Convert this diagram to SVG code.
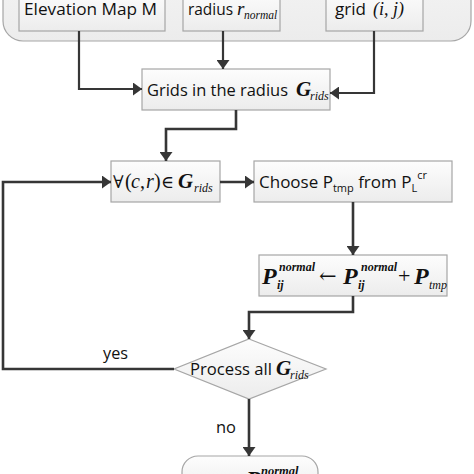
<svg xmlns="http://www.w3.org/2000/svg" width="474" height="474" viewBox="0 0 474 474">
<defs>
<linearGradient id="gBox" x1="0" y1="0" x2="0" y2="1">
<stop offset="0" stop-color="#fdfdfd"/><stop offset="1" stop-color="#ececec"/>
</linearGradient>
<linearGradient id="gCont" x1="0" y1="0" x2="0" y2="1">
<stop offset="0" stop-color="#f4f4f4"/><stop offset="1" stop-color="#ececec"/>
</linearGradient>
<marker id="arr" markerUnits="userSpaceOnUse" markerWidth="10" markerHeight="13" refX="9" refY="6.5" orient="auto">
<path d="M0,0 L9,6.5 L0,13 z" fill="#363636"/>
</marker>
</defs>
<style>
.box{fill:url(#gBox);stroke:#a6a6a6;stroke-width:1.2}
.cont{fill:url(#gCont);stroke:#a6a6a6;stroke-width:1.2}
.t{font-family:"Open Sans","Liberation Sans",sans-serif;font-size:17px;fill:#111}
.m{font-family:"Liberation Serif","Times New Roman",serif;fill:#111}
.sym{font-family:"DejaVu Serif","Liberation Serif",serif;fill:#111}
.bi{font-weight:bold;font-style:italic}
.i{font-style:italic}
.c{fill:none;stroke:#363636;stroke-width:2.6}
.cs{fill:none;stroke:#363636;stroke-width:2.2}
</style>
<rect width="474" height="474" fill="#ffffff"/>
<g id="inputs">
<rect class="cont" x="3" y="-30" width="468" height="71" rx="20"/>
</g>
<g id="elevation">
<rect class="box" x="19" y="-10" width="146" height="41"/>
<text class="t" x="24" y="14.5" textLength="133" lengthAdjust="spacingAndGlyphs">Elevation Map M</text>
</g>
<g id="radius">
<rect class="box" x="183" y="-10" width="97" height="41"/>
<text class="t" x="188" y="14.5" textLength="45" lengthAdjust="spacingAndGlyphs">radius</text>
<text class="m i" x="237" y="14.5" font-size="19">r</text>
<text class="m i" x="244" y="18.5" font-size="11.5">normal</text>
</g>
<g id="grid">
<rect class="box" x="326" y="-10" width="97" height="41"/>
<text class="t" x="335" y="14.5" textLength="31" lengthAdjust="spacingAndGlyphs">grid</text>
<text class="m i" x="373" y="14.5" font-size="18">(i, j)</text>
</g>
<g id="grids">
<rect class="box" x="142" y="69" width="188" height="41"/>
<text class="t" x="147" y="96" textLength="141" lengthAdjust="spacingAndGlyphs">Grids in the radius</text>
<text class="m bi" x="296" y="96" font-size="21">G</text>
<text class="m i" x="310" y="100" font-size="12">rids</text>
</g>
<g id="forall">
<rect class="box" x="111" y="161" width="109" height="41"/>
<text class="sym" y="188" font-size="17.5"><tspan x="113">∀</tspan><tspan x="161">∈</tspan></text>
<text class="m" y="188" font-size="20"><tspan x="125">(</tspan><tspan x="131" font-style="italic">c</tspan><tspan x="140">,</tspan><tspan x="146" font-style="italic">r</tspan><tspan x="154">)</tspan></text>
<text class="m bi" x="178" y="188" font-size="21">G</text>
<text class="m i" x="194" y="192" font-size="12">rids</text>
</g>
<g id="choose">
<rect class="box" x="254" y="161" width="198" height="41"/>
<text class="t" x="259" y="188">Choose P<tspan font-size="11" dy="4">tmp</tspan><tspan dy="-4"> from P</tspan><tspan font-size="11" dy="4">L</tspan><tspan font-size="11" dy="-13">cr</tspan></text>
</g>
<g id="update">
<rect class="box" x="259" y="255" width="188" height="41"/>
<text class="m bi" x="262" y="284" font-size="24">P</text>
<text class="m bi" x="277" y="289" font-size="12">ij</text>
<text class="m bi" x="279" y="271" font-size="12">normal</text>
<text class="sym" x="319" y="283" font-size="21">←</text>
<text class="m bi" x="343" y="284" font-size="24">P</text>
<text class="m bi" x="358" y="289" font-size="12">ij</text>
<text class="m bi" x="361" y="271" font-size="12">normal</text>
<text class="m" x="398" y="283" font-size="22">+</text>
<text class="m bi" x="414" y="284" font-size="24">P</text>
<text class="m i" x="429" y="289" font-size="12">tmp</text>
</g>
<g id="decision">
<polygon class="box" points="249,339 326,369 249,399 174,369"/>
<text class="t" x="190" y="375" textLength="82" lengthAdjust="spacingAndGlyphs">Process all</text>
<text class="m bi" x="276" y="375" font-size="21">G</text>
<text class="m i" x="290" y="379" font-size="12">rids</text>
</g>
<g id="result">
<rect class="box" x="182" y="456" width="136" height="40" rx="16"/>
<text class="m bi" x="246" y="487" font-size="24">P</text>
<text class="m bi" x="261" y="475" font-size="12.5">normal</text>
</g>
<g id="connectors">
<path class="cs" d="M79,31 V89 H142" marker-end="url(#arr)"/>
<path class="cs" d="M223,31 V69" marker-end="url(#arr)"/>
<path class="cs" d="M374,31 V93 H330" marker-end="url(#arr)"/>
<path class="c" d="M236,110 V129 H166 V161" marker-end="url(#arr)"/>
<path class="c" d="M220,182 H254" marker-end="url(#arr)"/>
<path class="c" d="M353,202 V255" marker-end="url(#arr)"/>
<path class="c" d="M353,296 V312 H249 V339" marker-end="url(#arr)"/>
<path class="c" d="M174,369 H3 V182 H111" marker-end="url(#arr)"/>
<path class="c" d="M249,399 V456" marker-end="url(#arr)"/>
<text class="t" x="103" y="359" textLength="25" lengthAdjust="spacingAndGlyphs">yes</text>
<text class="t" x="216" y="433" textLength="20" lengthAdjust="spacingAndGlyphs">no</text>
</g>
</svg>
